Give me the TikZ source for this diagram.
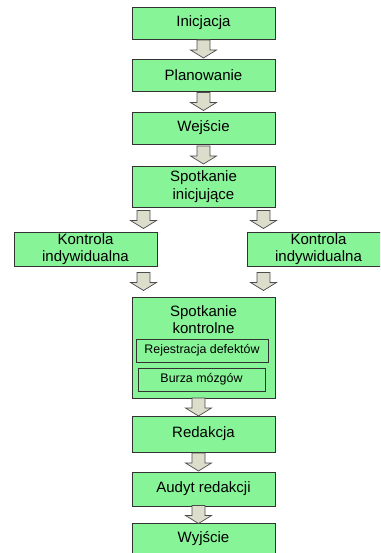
\documentclass[tikz,border=0pt]{standalone}
\usepackage{fontspec}
\setmainfont{Liberation Sans}
\usepackage{xcolor}
\usepackage{tikz}
\usetikzlibrary{calc}

\definecolor{boxgreen}{RGB}{136,244,152}
\definecolor{arrowgray}{RGB}{221,221,204}

\tikzset{
stepbox/.style={draw=black!80, line width=0.8pt, fill=boxgreen, minimum width=143pt, minimum height=32pt, inner sep=0pt, align=center, font=\fontsize{15}{17.5}\selectfont},
boxtitle/.style={inner sep=0pt, align=center, font=\fontsize{15}{17.5}\selectfont},
subbox/.style={draw=black!80, line width=0.8pt, fill=boxgreen, minimum height=23pt, inner sep=0pt, font=\fontsize{12.4}{14}\selectfont},
pics/flowarrow/.style={code={
\filldraw[draw=black!70, line width=0.7pt, fill=arrowgray] (-6.5,-9) -- (6.5,-9) -- (6.5,1) -- (13,1) -- (0,9) -- (-13,1) -- (-6.5,1) -- cycle;
}}
}

\begin{document}
\begin{tikzpicture}[x=1pt,y=-1pt]
\useasboundingbox (0,0) rectangle (380,553);
\clip (0,0) rectangle (380,553);

\node[stepbox] (ini) at (203.5,23) {Inicjacja};
\node[stepbox] (plan) at (203.5,75) {Planowanie};
\node[stepbox] (wej) at (203.5,128) {Wejście};
\node[stepbox, minimum height=41pt] (sini) at (203.5,186.5) {Spotkanie\\inicjujące};
\node[stepbox, minimum height=34pt] (kleft) at (85.5,249) {Kontrola\\indywidualna};
\node[stepbox, minimum height=34pt] (kright) at (318.5,249) {Kontrola\\indywidualna};
\node[stepbox, minimum height=101pt] (skon) at (203.5,347.5) {};
\node[boxtitle] (skontitle) at (203.5,319.5) {Spotkanie\\kontrolne};
\node[subbox, minimum width=132pt] (rej) at (202,350.5) {Rejestracja defektów};
\node[subbox, minimum width=127pt] (burza) at (201.5,379.5) {Burza mózgów};
\node[stepbox, minimum height=36pt] (red) at (203.5,434) {Redakcja};
\node[stepbox, minimum height=34pt] (aud) at (203.5,489) {Audyt redakcji};
\node[stepbox] (wyj) at (203.5,539) {Wyjście};

\pic at ($(ini.south)!0.5!(plan.north)$) {flowarrow};
\pic at ($(plan.south)!0.5!(wej.north)$) {flowarrow};
\pic at ($(wej.south)!0.5!(sini.north)$) {flowarrow};
\pic at ($(sini.south)!0.5!(sini.south |- kleft.north)+(-60,0)$) {flowarrow};
\pic at ($(sini.south)!0.5!(sini.south |- kright.north)+(60,0)$) {flowarrow};
\pic at ($(skon.north)!0.5!(skon.north |- kleft.south)+(-60,0)$) {flowarrow};
\pic at ($(skon.north)!0.5!(skon.north |- kright.south)+(60,0)$) {flowarrow};
\pic at ($(skon.south)!0.5!(red.north)+(-5,0)$) {flowarrow};
\pic at ($(red.south)!0.5!(aud.north)+(-5,0)$) {flowarrow};
\pic at ($(aud.south)!0.5!(wyj.north)+(-5,0)$) {flowarrow};

\end{tikzpicture}
\end{document}
